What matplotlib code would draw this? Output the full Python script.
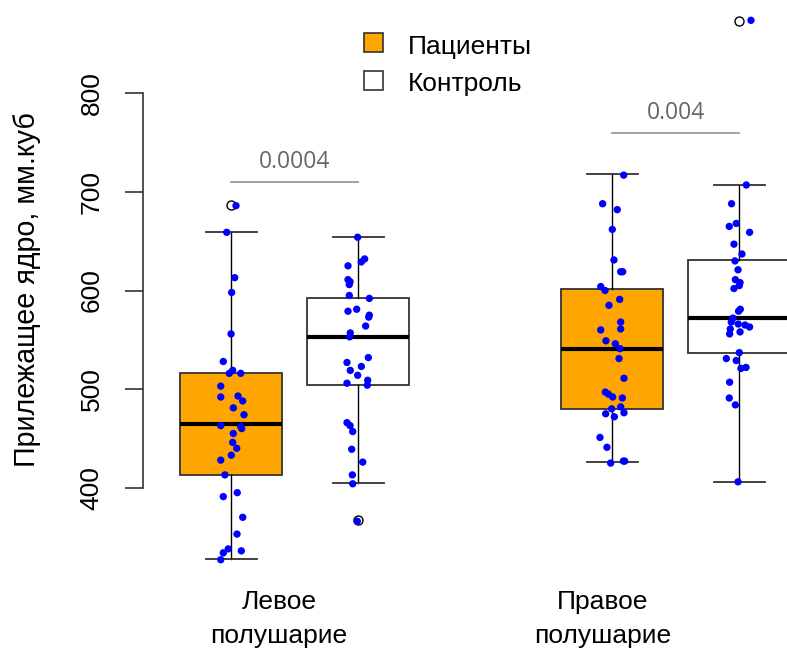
import matplotlib
matplotlib.use("Agg")
import matplotlib.pyplot as plt
from matplotlib.patches import Rectangle

plt.rcParams['font.family'] = ['Liberation Sans', 'DejaVu Sans']

# ---------------- data ----------------
groups = ["Пациенты", "Контроль"]
hemispheres = ["Левое\nполушарие", "Правое\nполушарие"]
p_values = ["0.0004", "0.004"]
p_line_y = [710, 760]

# box statistics (whislo, q1, median, q3, whishi, outliers)
box_stats = [
    dict(whislo=327.5, q1=413.0, med=464.5, q3=516.8, whishi=659.5, fliers=[687]),
    dict(whislo=404.5, q1=504.4, med=552.7, q3=592.8, whishi=654.7, fliers=[367]),
    dict(whislo=425.6, q1=480.0, med=540.5, q3=601.4, whishi=717.9, fliers=[]),
    dict(whislo=406.0, q1=537.1, med=572.6, q3=630.7, whishi=707.0, fliers=[873.5]),
]

pat_left = [686, 659, 613, 598, 556, 528, 519, 516, 516, 503, 492, 493, 488, 481, 474, 463,
            462, 460, 455, 446, 440, 433, 428, 413, 395, 391, 370, 353, 338, 334, 336, 327]
jit_pat_left = [0.037, -0.036, 0.027, 0.003, -0.002, -0.063, 0.011, -0.016, 0.074, -0.083,
                -0.083, 0.053, 0.09, 0.016, 0.1, -0.083, 0.074, 0.082, 0.016, 0.011, 0.043,
                0.0, -0.083, -0.05, 0.047, -0.063, 0.09, 0.045, -0.024, -0.063, 0.079, -0.083]

ctl_left = [654, 632, 629, 625, 611, 609, 606, 595, 592, 579, 581, 575, 573, 564, 557, 553,
            532, 527, 523, 519, 514, 506, 509, 504, 466, 463, 457, 439, 426, 413, 404, 366]
jit_ctl_left = [-0.005, 0.05, 0.024, -0.081, -0.081, -0.065, -0.071, -0.071, 0.087, -0.081,
                -0.013, 0.087, 0.082, 0.058, -0.063, -0.068, 0.079, -0.089, 0.024, -0.063,
                -0.005, -0.089, 0.074, 0.071, -0.089, -0.065, -0.044, -0.052, 0.035, -0.047,
                -0.044, -0.008]

pat_right = [717, 688, 682, 662, 631, 619, 619, 604, 600, 591, 585, 568, 561, 560, 549, 546,
             541, 531, 511, 497, 495, 492, 491, 482, 480, 475, 472, 476, 451, 441, 425, 427, 427]
jit_pat_right = [0.09, -0.076, 0.039, 0.0, 0.013, 0.066, 0.082, -0.091, -0.057, 0.058,
                 -0.026, 0.066, 0.066, -0.091, -0.05, 0.024, 0.061, 0.053, 0.092, -0.055,
                 -0.031, 0.003, 0.079, 0.066, -0.005, -0.052, 0.016, 0.092, -0.097, -0.042,
                 -0.013, 0.087, 0.098]

ctl_right = [874, 707, 688, 668, 665, 659, 647, 637, 630, 621, 611, 608, 605, 602, 581, 579,
             572, 568, 566, 565, 563, 561, 556, 558, 537, 531, 529, 521, 522, 507, 491, 484, 406]
jit_ctl_right = [0.092, 0.055, -0.061, -0.024, -0.079, 0.081, -0.042, 0.021, -0.034, -0.01,
                 -0.031, 0.006, 0.0, -0.042, 0.008, -0.006, -0.05, -0.063, -0.008, 0.045,
                 0.081, -0.071, -0.076, 0.006, 0.0, -0.102, -0.024, 0.013, 0.053, -0.076,
                 -0.079, -0.031, -0.01]

y_ticks = [400, 500, 600, 700, 800]
y_label = "Прилежащее ядро, мм.куб"

# ---------------- figure ----------------
W, H = 787, 648
fig = plt.figure(figsize=(W / 100, H / 100), dpi=100)
ax = fig.add_axes([142.7 / W, 66 / H, (W - 142.7) / W, 582 / H])

positions = [1, 2, 4, 5]
fills = ["#FFA500", "white", "#FFA500", "white"]

bp = ax.bxp(box_stats, positions=positions, widths=0.8, patch_artist=True,
            showfliers=True,
            boxprops=dict(edgecolor="#333333", linewidth=1.3),
            medianprops=dict(color="black", linewidth=3),
            whiskerprops=dict(color="black", linewidth=1.0),
            capprops=dict(color="#333333", linewidth=1.3),
            capwidths=0.4,
            flierprops=dict(marker="o", markerfacecolor="none", markeredgecolor="black",
                            markersize=6.5, markeredgewidth=1.0))
for patch, fc in zip(bp["boxes"], fills):
    patch.set_facecolor(fc)

point_sets = [(pat_left, jit_pat_left), (ctl_left, jit_ctl_left),
              (pat_right, jit_pat_right), (ctl_right, jit_ctl_right)]
for pos, (vals, jit) in zip(positions, point_sets):
    ax.scatter([pos + j for j in jit], vals, s=28, color="#0000FF", edgecolors="none",
               zorder=5)

# p-value brackets
for (a, b), yv, txt in zip([(1, 2), (4, 5)], p_line_y, p_values):
    ax.plot([a, b], [yv, yv], color="#9a9a9a", linewidth=1.3)
    ax.text((a + b) / 2, yv + 14, txt, ha="center", va="baseline", color="#666666",
            fontsize=16.5, family=["Open Sans", "DejaVu Sans"])

ax.set_xlim(0.3024, 5.3756)
ax.set_ylim(304.4, 894.6)

for s in ["top", "right", "bottom"]:
    ax.spines[s].set_visible(False)
ax.spines["left"].set_bounds(400, 800)
ax.spines["left"].set_color("#333333")
ax.spines["left"].set_linewidth(1.2)
ax.set_xticks([])
ax.set_yticks(y_ticks)
ax.set_yticklabels([str(t) for t in y_ticks], rotation=90, va="center", fontsize=19)
ax.tick_params(axis="y", length=13.2, width=1.2, color="#333333", pad=15)
ax.patch.set_alpha(0)

# y label
fig.text(27.5 / W, 1 - 290 / H, y_label, rotation=90, ha="center", va="center",
         fontsize=20.6)

# group labels
for xp, lab in zip([279, 603], hemispheres):
    l1, l2 = lab.split("\n")
    fig.text(xp / W, 1 - 609 / H, l1, ha="center", va="baseline", fontsize=19)
    fig.text(xp / W, 1 - 643 / H, l2, ha="center", va="baseline", fontsize=19)

# legend
for i, (g, fc) in enumerate(zip(groups, ["#FFA500", "white"])):
    top = 33.3 + i * 37.5
    fig.add_artist(Rectangle((364 / W, 1 - (top + 19) / H), 19 / W, 19 / H,
                             facecolor=fc, edgecolor="#333333", linewidth=1.2,
                             transform=fig.transFigure))
    fig.text(408.3 / W, 1 - (top + 20.7) / H, g, ha="left", va="baseline", fontsize=19)

fig.savefig("out.png", dpi=100)
